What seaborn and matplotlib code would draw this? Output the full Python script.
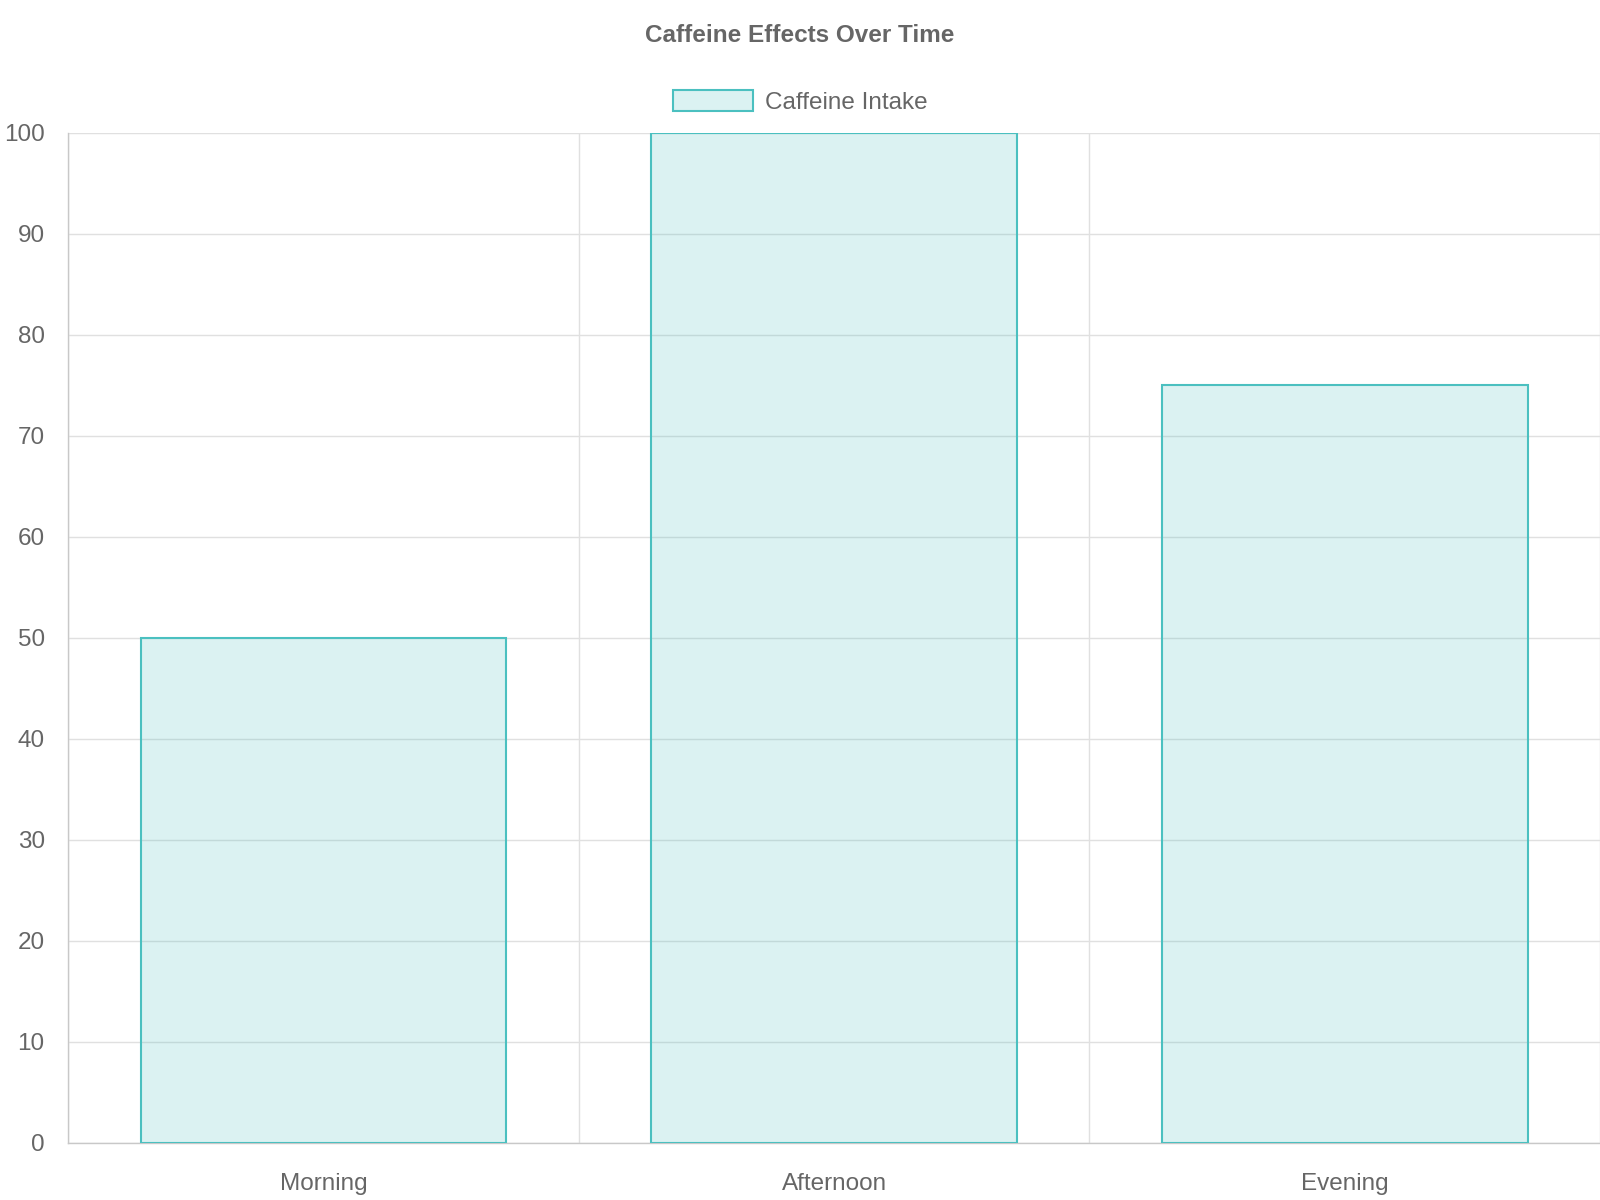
import matplotlib
matplotlib.use("Agg")
import matplotlib.pyplot as plt
from matplotlib.patches import Patch
import seaborn as sns
import pandas as pd

# data
times = ["Morning", "Afternoon", "Evening"]
caffeine_intake = [50, 100, 75]
y_ticks = list(range(0, 101, 10))

df = pd.DataFrame({"time": times, "intake": caffeine_intake})

sns.set_style("white")
plt.rcParams["font.family"] = ["Liberation Sans", "DejaVu Sans"]

text_col = "#666666"
fill_col = (75 / 255, 192 / 255, 192 / 255, 0.2)
edge_col = "#4bc0c0"
grid_col = "#e0e0e0"
axis_col = "#c8c8c8"

fig = plt.figure(figsize=(16, 12), dpi=100)
ax = fig.add_axes([0.0427, 0.0476, 0.9573, 0.8419])

sns.barplot(data=df, x="time", y="intake", ax=ax, color="#4bc0c0",
            edgecolor=edge_col, linewidth=1.5, width=0.716, saturation=1, zorder=3)
for bar in ax.patches:
    bar.set_facecolor(fill_col)

ax.set_xlim(-0.5, len(times) - 0.5)
ax.set_ylim(0, 100)
ax.set_yticks(y_ticks)

# grid lines between categories like chart.js
ax.set_xticks([i - 0.5 for i in range(len(times) + 1)], minor=True)
ax.set_xticks(range(len(times)))
ax.set_xticklabels(times)
ax.tick_params(axis="x", which="major", length=0, pad=22, labelsize=17.5, labelcolor=text_col)
ax.tick_params(axis="x", which="minor", length=11, width=1, color=grid_col)
ax.tick_params(axis="y", length=11, width=1, color=grid_col, pad=6, labelsize=17.5, labelcolor=text_col)

ax.grid(True, axis="y", color=grid_col, linewidth=1, zorder=0)
ax.grid(True, axis="x", which="minor", color=grid_col, linewidth=1, zorder=0)
ax.grid(False, axis="x", which="major")
ax.set_axisbelow(True)

for side in ["top", "right"]:
    ax.spines[side].set_visible(False)
ax.spines["left"].set_color(axis_col)
ax.spines["bottom"].set_color(axis_col)
ax.spines["left"].set_linewidth(1)
ax.spines["bottom"].set_linewidth(1)

ax.set_xlabel("")
ax.set_ylabel("")

fig.text(0.5, 0.970, "Caffeine Effects Over Time", ha="center", va="center",
         fontsize=17.5, fontweight="bold", color=text_col)

handle = Patch(facecolor=fill_col, edgecolor=edge_col, linewidth=1.5)
fig.legend([handle], ["Caffeine Intake"], loc="center", bbox_to_anchor=(0.5, 0.915),
           frameon=False, fontsize=17.5, labelcolor=text_col,
           handlelength=3.3, handleheight=0.95, handletextpad=0.5)

fig.savefig("out.png", dpi=100)
